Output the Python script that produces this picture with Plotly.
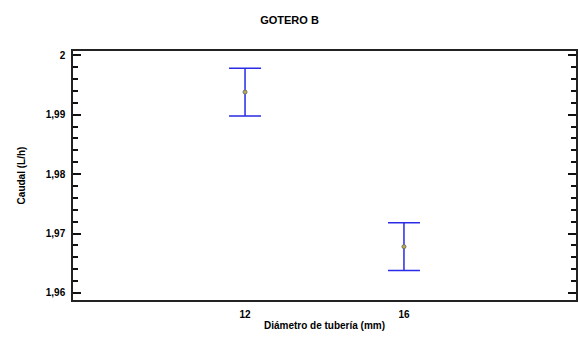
import plotly.graph_objects as go

categories = [12, 16]
means = [1.9938, 1.9678]
err_plus = [0.0040, 0.0040]
err_minus = [0.0040, 0.0040]

font_family = "Liberation Sans, Arial, sans-serif"
bold10 = dict(size=10, family=font_family, weight="bold", color="black")
y_range = [1.95882, 2.00072]

fig = go.Figure()
fig.add_trace(go.Scatter(
    x=categories, y=means, mode="markers",
    marker=dict(symbol="circle", size=4, color="#b8b040",
                line=dict(color="#707070", width=1)),
    error_y=dict(type="data", symmetric=False, array=err_plus, arrayminus=err_minus,
                 color="#2a2ae8", thickness=1.5, width=16),
    showlegend=False,
))

fig.update_layout(
    template="none",
    width=579, height=337,
    margin=dict(l=73, r=3, t=51, b=37),
    paper_bgcolor="white", plot_bgcolor="white",
    separators=",.",
    font=dict(family=font_family, size=10, color="black"),
    title=dict(text="GOTERO B", x=0.5, xanchor="center", y=0.94, yanchor="middle",
               font=dict(size=11, family=font_family, weight="bold")),
    xaxis=dict(
        range=[7.67, 20.33], tickvals=categories,
        showgrid=False, zeroline=False, showline=True, linecolor="#222", linewidth=1.5,
        mirror=True, ticks="", tickfont=bold10,
        ticklabelstandoff=4,
        title=dict(text="Diámetro de tubería (mm)", standoff=3, font=bold10),
    ),
    yaxis=dict(
        range=y_range, tick0=1.96, dtick=0.01, tickformat=".3~g",
        showgrid=False, zeroline=False, showline=True, linecolor="#222", linewidth=1.5,
        mirror="allticks", ticks="inside", ticklen=8, tickcolor="#111", tickwidth=2,
        minor=dict(dtick=0.002, ticks="inside", ticklen=5, tickcolor="#111", tickwidth=2),
        tickfont=bold10,
        ticklabelstandoff=4,
        title=dict(text="Caudal (L/h)", standoff=18, font=bold10),
    ),
)

fig.write_html("out.html")
